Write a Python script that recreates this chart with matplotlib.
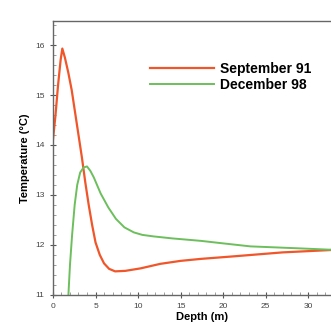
import matplotlib
matplotlib.use("Agg")
import matplotlib.pyplot as plt
from matplotlib.ticker import MultipleLocator, FixedLocator

# perfiles de temperatura
sep_depth = [0, 0.3, 0.6, 0.9, 1.1, 1.4, 1.8, 2.2, 2.6, 3.0, 3.4, 3.8, 4.2, 4.6, 5.0, 5.5, 6.0, 6.6, 7.3,
             8.5, 10.3, 12.6, 15, 17.4, 21.2, 27, 33]
sep_temp = [14.1, 14.6, 15.2, 15.7, 15.93, 15.75, 15.45, 15.1, 14.65, 14.2, 13.75, 13.25, 12.8, 12.4, 12.05,
            11.8, 11.63, 11.52, 11.47, 11.48, 11.53, 11.62, 11.68, 11.72, 11.77, 11.85, 11.9]

dec_depth = [1.8, 2.0, 2.25, 2.55, 2.85, 3.2, 3.6, 4.0, 4.4, 4.8, 5.6, 6.5, 7.4, 8.4, 9.5, 10.5, 11.8,
             14, 17.4, 20, 23.2, 29, 33]
dec_temp = [10.95, 11.6, 12.2, 12.8, 13.2, 13.45, 13.55, 13.57, 13.48, 13.35, 13.03, 12.75, 12.52, 12.35,
            12.25, 12.2, 12.17, 12.13, 12.08, 12.03, 11.97, 11.93, 11.9]

x_ticks = [0, 5, 10, 15, 20, 25, 30]

plt.rcParams['font.family'] = ['Liberation Sans', 'DejaVu Sans']

fig = plt.figure(figsize=(3.31, 3.24), dpi=100)
ax = fig.add_axes([0.16, 0.09, 0.9, 0.845])

ax.plot(sep_depth, sep_temp, color='#f0562a', lw=1.6, label='September 91')
ax.plot(dec_depth, dec_temp, color='#6cbf5c', lw=1.4, label='December 98')

ax.set_xlim(0, 35)
ax.set_ylim(11, 16.48)
ax.xaxis.set_major_locator(FixedLocator(x_ticks))
ax.xaxis.set_minor_locator(MultipleLocator(1))
ax.yaxis.set_major_locator(MultipleLocator(1))
ax.yaxis.set_minor_locator(MultipleLocator(0.2))
ax.tick_params(which='major', direction='inout', length=5, width=0.8, labelsize=6,
               colors='#555555', labelcolor='#444444')
ax.tick_params(which='minor', direction='in', length=2, width=0.5, colors='#777777')
for s in ax.spines.values():
    s.set_color('#666666')
    s.set_linewidth(1.0)

ax.set_xlabel('Depth (m)', fontsize=8, fontweight='bold', labelpad=1)
ax.set_ylabel('Temperature (°C)', fontsize=8, fontweight='bold', labelpad=4)

ax.legend(loc='upper left', bbox_to_anchor=(0.29, 0.89), frameon=False,
          prop={'size': 10, 'weight': 'bold'}, handlelength=4.6,
          handletextpad=0.4, labelspacing=0.1, borderpad=0.3)

fig.savefig('out.png', dpi=100)
